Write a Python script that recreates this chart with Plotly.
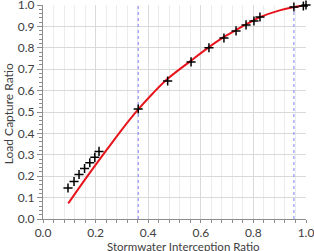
import plotly.graph_objects as go

# Observed points (black + markers)
obs_x = [0.095, 0.118, 0.137, 0.158, 0.178, 0.197, 0.213, 0.362, 0.474, 0.563, 0.631,
         0.688, 0.734, 0.772, 0.802, 0.825, 0.954, 0.99, 1.0]
obs_y = [0.145, 0.175, 0.208, 0.236, 0.263, 0.288, 0.316, 0.514, 0.645, 0.734, 0.800,
         0.846, 0.879, 0.907, 0.925, 0.944, 0.991, 0.995, 1.0]

# Fitted curve (red line)
fit_x = [0.096, 0.15, 0.2, 0.25, 0.3, 0.362, 0.42, 0.474, 0.563, 0.631, 0.688, 0.734,
         0.772, 0.825, 0.9, 0.954, 1.0]
fit_y = [0.073, 0.168, 0.253, 0.336, 0.418, 0.512, 0.59, 0.655, 0.74, 0.803, 0.851,
         0.883, 0.909, 0.943, 0.975, 0.99, 1.0]

# Reference vertical lines
vline_x = [0.362, 0.954]

x_ticks = [0.0, 0.2, 0.4, 0.6, 0.8, 1.0]
y_ticks = [0.0, 0.1, 0.2, 0.3, 0.4, 0.5, 0.6, 0.7, 0.8, 0.9, 1.0]

x_title = "Stormwater Interception Ratio"
y_title = "Load Capture Ratio"

FONT = "Lato"
TXT = "#404040"

fig = go.Figure()
for vx in vline_x:
    fig.add_trace(go.Scatter(x=[vx, vx], y=[0, 1], mode="lines",
                             line=dict(color="#8080f0", width=1, dash="dot"),
                             showlegend=False, hoverinfo="skip"))
fig.add_trace(go.Scatter(x=fit_x, y=fit_y, mode="lines",
                         line=dict(color="#e8141c", width=2, shape="spline"),
                         showlegend=False))
fig.add_trace(go.Scatter(x=obs_x, y=obs_y, mode="markers", cliponaxis=False,
                         marker=dict(symbol="cross-thin", size=6.5,
                                     line=dict(color="black", width=1.5)),
                         showlegend=False))

fig.update_layout(
    width=314, height=251,
    margin=dict(l=43, r=8, t=5, b=32, autoexpand=False),
    paper_bgcolor="white", plot_bgcolor="white",
    font=dict(family=FONT, size=12, color=TXT),
    xaxis=dict(range=[0, 1.0], tickvals=x_ticks, tickformat=".1f",
               automargin=False,
               ticklabeloverflow="allow",
               showline=True, linecolor="#8c8c8c", linewidth=1,
               ticks="outside", ticklen=3, tickcolor="#8c8c8c",
               showgrid=True, gridcolor="#d9d9d9", gridwidth=1,
               zeroline=False,
               minor=dict(dtick=0.04, ticks="outside", ticklen=3, tickcolor="#8c8c8c",
                          showgrid=True, gridcolor="#ececec")),
    yaxis=dict(range=[0, 1.0], tickvals=y_ticks, tickformat=".1f",
               automargin=False,
               ticklabeloverflow="allow",
               showline=True, linecolor="#8c8c8c", linewidth=1,
               ticks="outside", ticklen=5, tickcolor="#8c8c8c",
               showgrid=True, gridcolor="#d9d9d9", gridwidth=1,
               zeroline=False,
               minor=dict(dtick=0.02, ticks="outside", ticklen=3, tickcolor="#8c8c8c",
                          showgrid=False)),
    annotations=[
        dict(text=x_title, xref="paper", yref="paper", x=0.536, y=-0.13,
             xanchor="center", yanchor="middle", showarrow=False,
             font=dict(family=FONT, size=11.5, color=TXT)),
        dict(text=y_title, xref="paper", yref="paper", x=-0.133, y=0.49,
             xanchor="center", yanchor="middle", showarrow=False, textangle=-90,
             font=dict(family=FONT, size=12, color=TXT)),
    ],
)

fig.write_html("out.html")
